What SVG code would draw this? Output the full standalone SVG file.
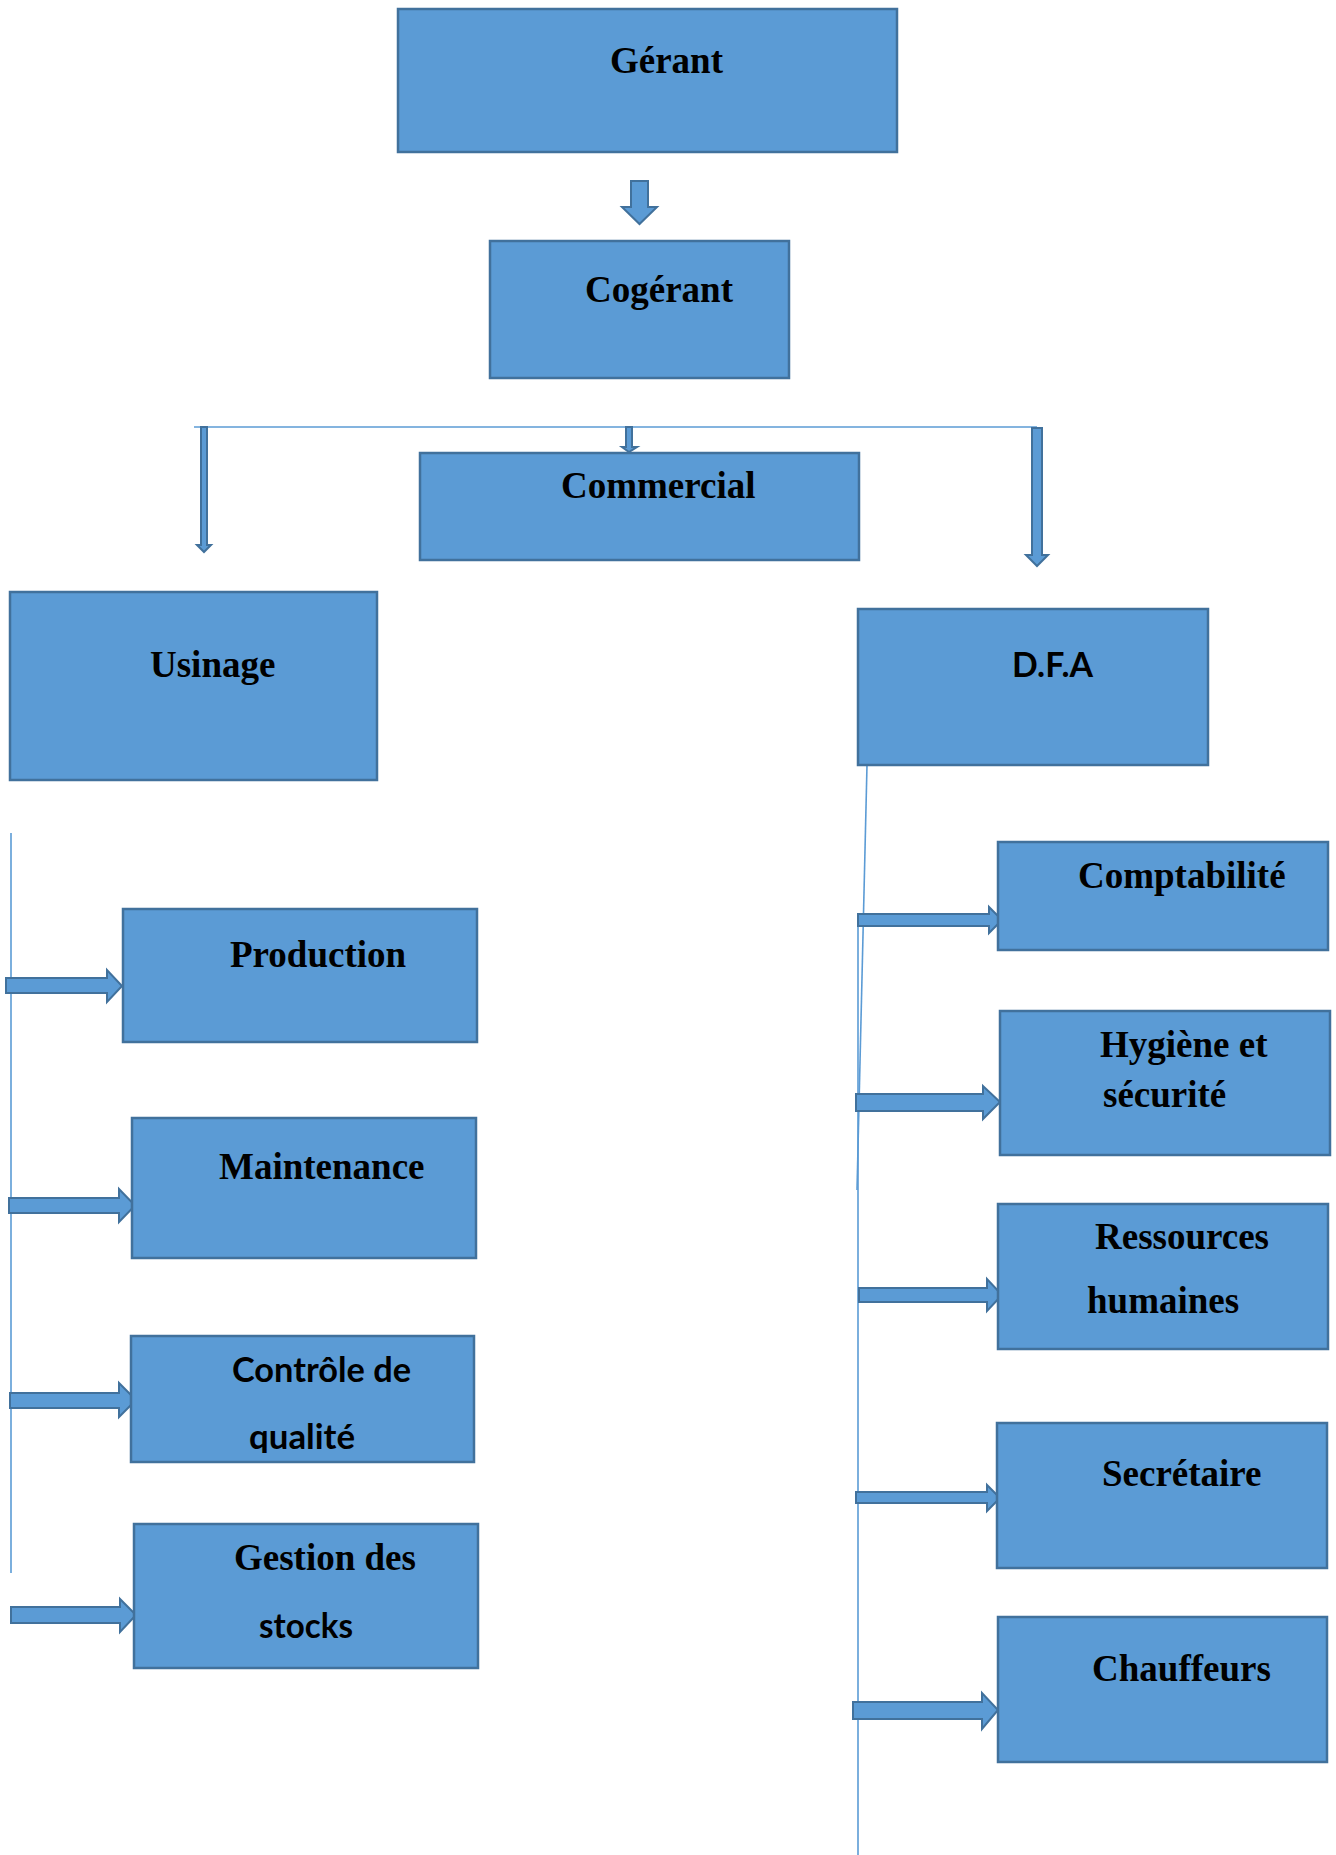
<svg xmlns="http://www.w3.org/2000/svg" width="1336" height="1855" viewBox="0 0 1336 1855">
<style>
.box{fill:#5B9BD5;stroke:#41719C;stroke-width:2.5}
.arr{fill:#5B9BD5;stroke:#41719C;stroke-width:2;stroke-linejoin:miter}
.ln{stroke:#5B9BD5;stroke-width:1.6;fill:none}
.s{font-family:"Liberation Serif","Times New Roman",serif;font-weight:bold;font-size:37px;fill:#000}
.c{font-family:Lato,"Open Sans","Liberation Sans",sans-serif;font-weight:bold;font-size:34px;fill:#000}
</style>
<defs>
<clipPath id="clipQ"><rect x="130" y="1336" width="346" height="117"/></clipPath>
</defs>
<rect width="1336" height="1855" fill="#fff"/>
<g id="connectors">
<line class="ln" x1="194" y1="427" x2="1037" y2="427"/>
<line class="ln" x1="11" y1="833" x2="11" y2="1573"/>
<line class="ln" x1="867" y1="765" x2="857" y2="1190"/>
<line class="ln" x1="858" y1="913" x2="858" y2="1855"/>
<polygon class="arr" points="631,181 648,181 648,207 657,207 639.5,224 622,207 631,207"/>
<polygon class="arr" points="201,427 207,427 207,545 211,545 204,552 197,545 201,545"/>
<polygon class="arr" points="626,427 632,427 632,447 637,447 629,452 622,447 626,447"/>
<polygon class="arr" points="1032,428 1042,428 1042,555 1048,555 1037,566 1026,555 1032,555"/>
<polygon class="arr" points="6,978 107,978 107,970 122,986 107,1002 107,993 6,993"/>
<polygon class="arr" points="9,1198 119,1198 119,1189 135,1205.5 119,1222 119,1213 9,1213"/>
<polygon class="arr" points="10,1393 119,1393 119,1383 136,1400 119,1417 119,1408 10,1408"/>
<polygon class="arr" points="11,1607 120,1607 120,1599 136,1615 120,1632 120,1623 11,1623"/>
<polygon class="arr" points="858,914 989,914 989,907 1002,920 989,933 989,926 858,926"/>
<polygon class="arr" points="856,1094 983,1094 983,1086 1000,1102 983,1119 983,1111 856,1111"/>
<polygon class="arr" points="859,1288 987,1288 987,1279 1002,1295 987,1311 987,1302 859,1302"/>
<polygon class="arr" points="856,1492 987,1492 987,1485 1000,1498 987,1511 987,1503 856,1503"/>
<polygon class="arr" points="853,1702 982,1702 982,1693 998,1710 982,1729 982,1719 853,1719"/>
</g>
<g id="gerant"><rect class="box" x="398" y="9" width="499" height="143"/><text class="s" x="610" y="73">Gérant</text></g>
<g id="cogerant"><rect class="box" x="490" y="241" width="299" height="137"/><text class="s" x="585" y="302">Cogérant</text></g>
<g id="commercial"><rect class="box" x="420" y="453" width="439" height="107"/><text class="s" x="561" y="498">Commercial</text></g>
<g id="usinage"><rect class="box" x="10" y="592" width="367" height="188"/><text class="s" x="150" y="677">Usinage</text></g>
<g id="dfa"><rect class="box" x="858" y="609" width="350" height="156"/><text class="c" x="1012" y="677" textLength="81" lengthAdjust="spacingAndGlyphs">D.F.A</text></g>
<g id="production"><rect class="box" x="123" y="909" width="354" height="133"/><text class="s" x="230" y="967">Production</text></g>
<g id="maintenance"><rect class="box" x="132" y="1118" width="344" height="140"/><text class="s" x="219" y="1179">Maintenance</text></g>
<g id="controle"><rect class="box" x="131" y="1336" width="343" height="126"/><text class="c" x="232" y="1382" textLength="179" lengthAdjust="spacingAndGlyphs">Contrôle de</text><text class="c" x="249" y="1449" textLength="106" lengthAdjust="spacingAndGlyphs" clip-path="url(#clipQ)">qualité</text></g>
<g id="gestion"><rect class="box" x="134" y="1524" width="344" height="144"/><text class="s" x="234" y="1570">Gestion des</text><text class="c" x="259" y="1638" textLength="94" lengthAdjust="spacingAndGlyphs">stocks</text></g>
<g id="comptabilite"><rect class="box" x="998" y="842" width="330" height="108"/><text class="s" x="1078" y="888">Comptabilité</text></g>
<g id="hygiene"><rect class="box" x="1000" y="1011" width="330" height="144"/><text class="s" x="1100" y="1057">Hygiène et</text><text class="s" x="1103" y="1107">sécurité</text></g>
<g id="rh"><rect class="box" x="998" y="1204" width="330" height="145"/><text class="s" x="1095" y="1249">Ressources</text><text class="s" x="1087" y="1313">humaines</text></g>
<g id="secretaire"><rect class="box" x="997" y="1423" width="330" height="145"/><text class="s" x="1102" y="1486">Secrétaire</text></g>
<g id="chauffeurs"><rect class="box" x="998" y="1617" width="329" height="145"/><text class="s" x="1092" y="1681">Chauffeurs</text></g>
</svg>
